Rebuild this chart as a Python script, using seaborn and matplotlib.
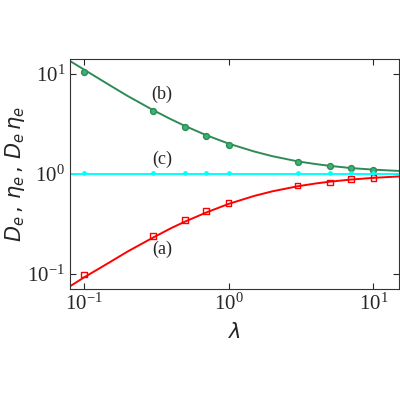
import seaborn as sns
import matplotlib.pyplot as plt
import pandas as pd

# measured points
lam = [0.1, 0.3, 0.5, 0.7, 1, 3, 5, 7, 10]
a_pts = [0.098, 0.238, 0.347, 0.424, 0.513, 0.76, 0.82, 0.885, 0.905]
b_pts = [10.4, 4.24, 2.93, 2.38, 1.96, 1.32, 1.19, 1.14, 1.10]
c_pts = [1.02, 1.02, 1.02, 1.02, 1.02, 1.02, 1.02, 1.02, 1.02]

# fitted curves
lam_fit = [0.08, 0.1, 0.15, 0.2, 0.3, 0.4, 0.5, 0.7, 1, 1.5, 2, 3, 4, 5, 7, 10, 15]
a_fit = [0.075, 0.092, 0.13, 0.167, 0.23, 0.286, 0.333, 0.41, 0.5, 0.6, 0.667,
         0.75, 0.8, 0.833, 0.875, 0.91, 0.94]
b_fit = [13.4, 11.0, 7.7, 6.0, 4.33, 3.5, 3.0, 2.43, 2.0, 1.67, 1.5,
         1.33, 1.25, 1.2, 1.14, 1.1, 1.067]
c_fit = [1.0] * len(lam_fit)

labels = ["(a)", "(b)", "(c)"]
label_x = [0.345, 0.345, 0.345]
label_y = [0.174, 6.2, 1.38]

sns.set_style("ticks")
plt.rcParams['font.family'] = ['Liberation Serif', 'DejaVu Serif']
plt.rcParams['mathtext.fontset'] = 'dejavusans'

fig = plt.figure(figsize=(4, 4), dpi=100)
ax = fig.add_axes([0.175, 0.278, 0.823, 0.575])

sns.lineplot(x=lam_fit, y=a_fit, color="red", lw=1.4, ax=ax)
sns.lineplot(x=lam_fit, y=b_fit, color="seagreen", lw=1.4, ax=ax)
sns.lineplot(x=lam_fit, y=c_fit, color="cyan", lw=1.4, ax=ax)

sns.scatterplot(x=lam, y=a_pts, marker="s", s=16, facecolor="none",
                edgecolor="red", linewidth=1.0, ax=ax, zorder=3)
sns.scatterplot(x=lam, y=b_pts, marker="o", s=18, color="mediumseagreen",
                edgecolor="seagreen", linewidth=1.0, ax=ax, zorder=3)
sns.scatterplot(x=lam, y=c_pts, marker="o", s=10, color="cyan",
                edgecolor="cyan", ax=ax, zorder=3)

ax.set_xscale("log")
ax.set_yscale("log")
ax.set_xlim(0.08, 15.1)
ax.set_ylim(0.0708, 14.1)
ax.minorticks_off()
ax.tick_params(which="both", direction="in", top=True, right=True,
               labelsize=15, length=4)
for s in ax.spines.values():
    s.set_color("#333333")

for t, xx, yy in zip(labels, label_x, label_y):
    ax.text(xx, yy, t, fontsize=13, ha="center", va="center")

ax.set_xlabel(r"$\lambda$", fontsize=15, labelpad=6)
ax.set_ylabel(r"$D_e\,,\,\eta_e\,,\,D_e\,\eta_e$", fontsize=15)
ax.yaxis.set_label_coords(-0.13, 0.5)

plt.savefig("out.png", dpi=100)
